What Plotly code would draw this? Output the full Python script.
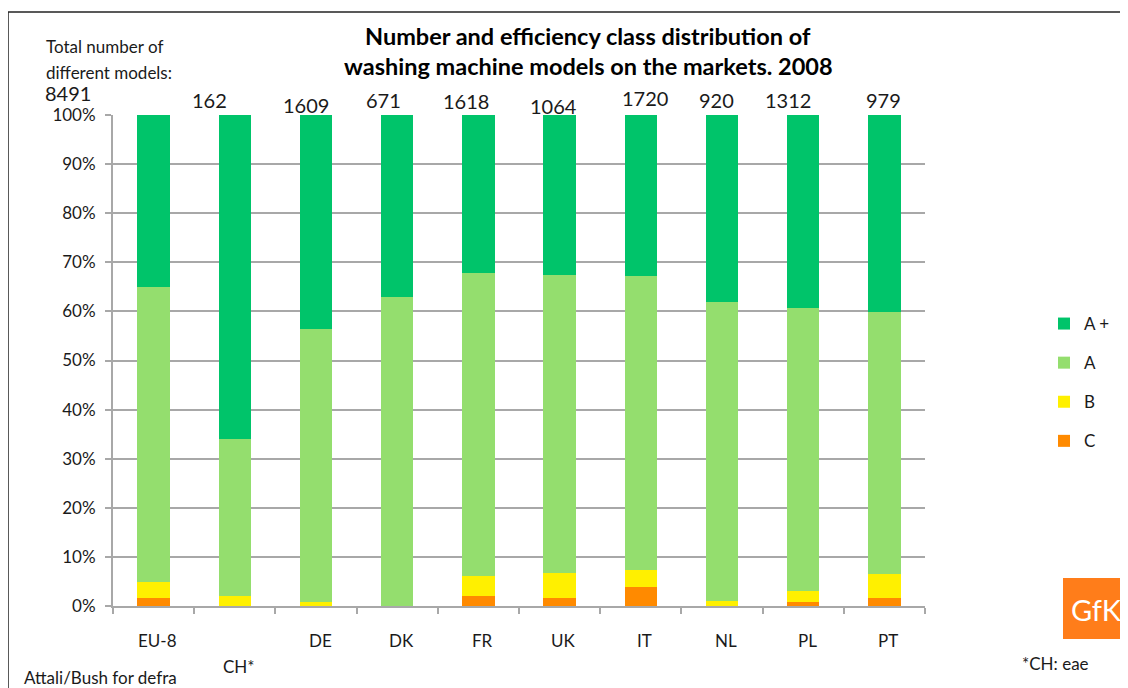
import plotly.graph_objects as go

# ---- data ----
categories = ["EU-8", "CH*", "DE", "DK", "FR", "UK", "IT", "NL", "PL", "PT"]
totals = [8491, 162, 1609, 671, 1618, 1064, 1720, 920, 1312, 979]
class_c = [1.7, 0.0, 0.0, 0.0, 2.0, 1.6, 3.8, 0.0, 0.9, 1.7]
class_b = [3.1, 2.0, 0.9, 0.0, 4.2, 5.2, 3.6, 1.0, 2.2, 4.8]
class_a = [60.2, 32.0, 55.5, 62.9, 61.6, 60.6, 59.8, 60.9, 57.6, 53.4]
class_ap = [35.0, 66.0, 43.6, 37.1, 32.2, 32.6, 32.8, 38.1, 39.3, 40.1]
series_names = ["C", "B", "A", "A +"]
y_ticks = [0, 10, 20, 30, 40, 50, 60, 70, 80, 90, 100]
y_tick_text = [f"{v}%" for v in y_ticks]

# ---- styling / layout helpers ----
OFF = 8  # page body margin
W, H = 1128 - OFF, 688 - OFF
L, R, T, B = 113, 925, 115, 606  # plot area in page pixels
colors = ["#FF8A00", "#FFF000", "#94DE6E", "#00C46A"]
ranks = [4, 3, 2, 1]
FONT = "Lato"
TXT = "#1a1a1a"
GRID = "#A8A8A8"


def px(x):
    return (x - L) / (R - L)


def py(y):
    return (B - y) / (B - T)


# label offsets (pixels) for the count labels
label_dx = [-86, -25, -10, -14, -12, -6, 4, -6, -15, -1]
label_y = [93, 100, 105, 100, 101, 106, 98, 100, 100, 100]

fig = go.Figure()
for name, vals, col, rk in zip(series_names, [class_c, class_b, class_a, class_ap], colors, ranks):
    fig.add_trace(go.Bar(
        x=categories, y=vals, name=name, marker_color=col,
        marker_line_width=0, width=0.4, legendgroup=name, legendrank=rk,
    ))

annotations = []
for cat, tot, dx, yy in zip(categories, totals, label_dx, label_y):
    annotations.append(dict(
        x=cat, xref="x", y=py(yy), yref="paper", text=str(tot), showarrow=False,
        xshift=dx, font=dict(size=20, color=TXT, family=FONT), borderpad=0,
        xanchor="center", yanchor="middle",
    ))
for cat in categories:
    yy = 666 if cat == "CH*" else 640
    annotations.append(dict(
        x=cat, xref="x", y=py(yy), yref="paper", text=cat, showarrow=False,
        xshift=4, font=dict(size=17, color=TXT, family=FONT),
        xanchor="center", yanchor="middle",
    ))

annotations += [
    dict(x=px(588), y=py(36), xref="paper", yref="paper", showarrow=False,
         text="<b>Number and efficiency class distribution of</b>",
         font=dict(size=23.5, color="#000", family=FONT), xanchor="center", yanchor="middle"),
    dict(x=px(588), y=py(66), xref="paper", yref="paper", showarrow=False,
         text="<b>washing machine models on the markets. 2008</b>",
         font=dict(size=23.5, color="#000", family=FONT), xanchor="center", yanchor="middle"),
    dict(x=px(44), y=py(46), xref="paper", yref="paper", showarrow=False,
         text="Total number of", font=dict(size=17, color=TXT, family=FONT),
         xanchor="left", yanchor="middle"),
    dict(x=px(44), y=py(73), xref="paper", yref="paper", showarrow=False,
         text="different models:", font=dict(size=17, color=TXT, family=FONT),
         xanchor="left", yanchor="middle"),
    dict(x=px(22), y=py(677), xref="paper", yref="paper", showarrow=False,
         text="Attali/Bush for defra", font=dict(size=17, color=TXT, family=FONT),
         xanchor="left", yanchor="middle"),
    dict(x=px(1020), y=py(663), xref="paper", yref="paper", showarrow=False,
         text="*CH: eae", font=dict(size=17, color=TXT, family=FONT),
         xanchor="left", yanchor="middle"),
    dict(x=px(1096), y=py(609), xref="paper", yref="paper", showarrow=False,
         text="GfK", font=dict(size=29, color="white", family=FONT),
         xanchor="center", yanchor="middle"),
]

shapes = [
    dict(type="line", xref="paper", yref="paper", x0=px(8), x1=px(1130), y0=py(12), y1=py(12),
         line=dict(color="#222", width=1.5)),
    dict(type="line", xref="paper", yref="paper", x0=px(8), x1=px(8), y0=py(12), y1=py(690),
         line=dict(color="#222", width=1.5)),
    dict(type="rect", xref="paper", yref="paper", x0=px(1063), x1=px(1130), y0=py(578), y1=py(639),
         fillcolor="#FF7D1A", line=dict(width=0), layer="below"),
]

fig.update_layout(
    width=W, height=H,
    margin=dict(l=L - OFF, r=W - (R - OFF), t=T - OFF, b=H - (B - OFF)),
    barmode="stack",
    plot_bgcolor="white", paper_bgcolor="white",
    font=dict(family=FONT, color=TXT, size=17),
    showlegend=True,
    legend=dict(
        x=px(1044), y=py(306), xanchor="left", yanchor="top",
        traceorder="grouped", tracegroupgap=14,
        font=dict(size=17, color=TXT, family=FONT),
        bgcolor="rgba(0,0,0,0)",
    ),
    xaxis=dict(
        type="category", range=[-0.5, 9.5], showticklabels=False,
        ticks="outside", tickson="boundaries", ticklen=6, tickcolor=GRID, tickwidth=1.5,
        showline=True, linecolor=GRID, linewidth=2, showgrid=False, zeroline=False,
    ),
    yaxis=dict(
        range=[0, 100], tickmode="array", tickvals=y_ticks, ticktext=y_tick_text,
        ticks="outside", ticklen=6, tickcolor=GRID, tickwidth=1.5,
        ticklabelstandoff=6,
        showline=True, linecolor=GRID, linewidth=2,
        showgrid=True, gridcolor=GRID, gridwidth=1.5, zeroline=False,
        tickfont=dict(size=17, color=TXT, family=FONT),
    ),
    annotations=annotations,
    shapes=shapes,
)

fig.write_html("out.html")
